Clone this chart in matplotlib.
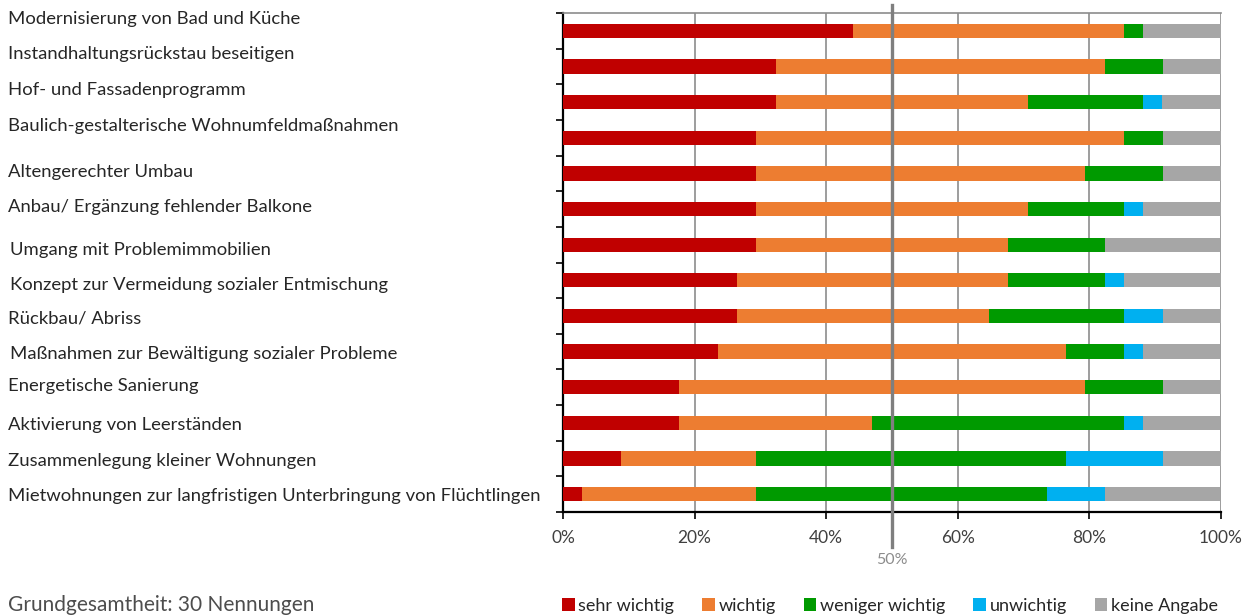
import matplotlib
matplotlib.use("Agg")
import matplotlib.pyplot as plt
import matplotlib.transforms as mtransforms
from matplotlib.patches import Patch
import numpy as np

categories = [
    "Modernisierung von Bad und Küche",
    "Instandhaltungsrückstau beseitigen",
    "Hof- und Fassadenprogramm",
    "Baulich-gestalterische Wohnumfeldmaßnahmen",
    "Altengerechter Umbau",
    "Anbau/ Ergänzung fehlender Balkone",
    "Umgang mit Problemimmobilien",
    "Konzept zur Vermeidung sozialer Entmischung",
    "Rückbau/ Abriss",
    "Maßnahmen zur Bewältigung sozialer Probleme",
    "Energetische Sanierung",
    "Aktivierung von Leerständen",
    "Zusammenlegung kleiner Wohnungen",
    "Mietwohnungen zur langfristigen Unterbringung von Flüchtlingen",
]

sehr_wichtig    = [44.1, 32.4, 32.4, 29.4, 29.4, 29.4, 29.4, 26.5, 26.5, 23.5, 17.6, 17.6,  8.8,  2.9]
wichtig         = [41.2, 50.0, 38.2, 55.9, 50.0, 41.2, 38.2, 41.2, 38.2, 52.9, 61.8, 29.4, 20.6, 26.5]
weniger_wichtig = [ 2.9,  8.8, 17.6,  5.9, 11.8, 14.7, 14.7, 14.7, 20.6,  8.8, 11.8, 38.2, 47.1, 44.1]
unwichtig       = [ 0.0,  0.0,  2.9,  0.0,  0.0,  2.9,  0.0,  2.9,  5.9,  2.9,  0.0,  2.9, 14.7,  8.8]
keine_angabe    = [11.8,  8.8,  8.8,  8.8,  8.8, 11.8, 17.6, 14.7,  8.8, 11.8,  8.8, 11.8,  8.8, 17.6]

series_names = ["sehr wichtig", "wichtig", "weniger wichtig", "unwichtig", "keine Angabe"]
series_colors = ["#C00000", "#ED7D31", "#009A00", "#00B0F0", "#A6A6A6"]
x_ticks = [0, 20, 40, 60, 80, 100]
x_ticklabels = ["0%", "20%", "40%", "60%", "80%", "100%"]
note = "Grundgesamtheit: 30 Nennungen"

FONT = "Lato"
TEXT_COLOR = "#262626"

fig = plt.figure(figsize=(12.44, 6.15), dpi=100)
ax = fig.add_axes([563 / 1244, 1 - 512 / 615, (1221 - 563) / 1244, (512 - 13) / 615])

y = np.arange(len(categories))
left = np.zeros(len(categories))
for vals, name, col in zip(
    [sehr_wichtig, wichtig, weniger_wichtig, unwichtig, keine_angabe],
    series_names, series_colors):
    vals = np.array(vals)
    ax.barh(y, vals, left=left, height=0.4, color=col, edgecolor="none", zorder=3)
    left += vals

ax.set_xlim(0, 100)
ax.set_ylim(len(categories) - 0.5, -0.5)

# vertical grid
for xv in x_ticks[1:]:
    ax.axvline(xv, color="#8C8C8C", lw=1.2, zorder=1)

# 50% reference line
mid_tr = mtransforms.blended_transform_factory(ax.transData, ax.transAxes)
ax.plot([50, 50], [1.016, -0.07], transform=mid_tr,
        color="#7F7F7F", lw=2.4, clip_on=False, zorder=4)
ax.text(50, -0.096, "50%", transform=mid_tr,
        ha="center", va="center", color="#8C8C8C", fontsize=11.5, family=FONT)

# spines
ax.spines["right"].set_visible(False)
ax.spines["top"].set_color("#8C8C8C")
ax.spines["top"].set_linewidth(1.2)
ax.spines["left"].set_linewidth(1.6)
ax.spines["bottom"].set_linewidth(1.6)

ax.set_xticks(x_ticks)
ax.set_xticklabels(x_ticklabels, family=FONT, fontsize=12.5, color="#404040")
ax.tick_params(axis="x", length=5, width=1.2, pad=8)

ax.set_yticks([])
ax.set_yticks(np.arange(-0.5, len(categories), 1.0), minor=True)
ax.tick_params(axis="y", which="minor", length=5, width=1.2)
ax.tick_params(axis="y", which="major", length=0)

# category labels, left aligned at the figure edge
label_tr = mtransforms.blended_transform_factory(fig.transFigure, ax.transData)
label_shift = [-0.34, -0.34, -0.34, -0.34, -0.05, -0.05, 0.14, 0.14, 0.08, 0.06, -0.03, 0.06, 0.06, 0.06]
label_x = [8, 8, 8, 8, 8, 8, 10, 10, 8, 10, 8, 8, 8, 8]
for i, (cat, dy, lx) in enumerate(zip(categories, label_shift, label_x)):
    ax.text(lx / 1244, i + dy, cat, transform=label_tr, ha="left", va="center",
            fontsize=13.3, family=FONT, color=TEXT_COLOR, clip_on=False)

# legend
handles = [Patch(facecolor=c, edgecolor="none") for c in series_colors]
fig.legend(handles, series_names, loc="center", bbox_to_anchor=(890 / 1244, 1 - 606 / 615),
           ncol=5, frameon=False, handlelength=0.7, handleheight=0.7, handletextpad=0.2,
           columnspacing=1.55, prop={"family": FONT, "size": 13}, labelcolor=TEXT_COLOR)

fig.text(8 / 1244, 1 - 605 / 615, note, ha="left", va="center", fontsize=15,
         family=FONT, color="#4D4D4D")

fig.savefig("out.png", dpi=100)
